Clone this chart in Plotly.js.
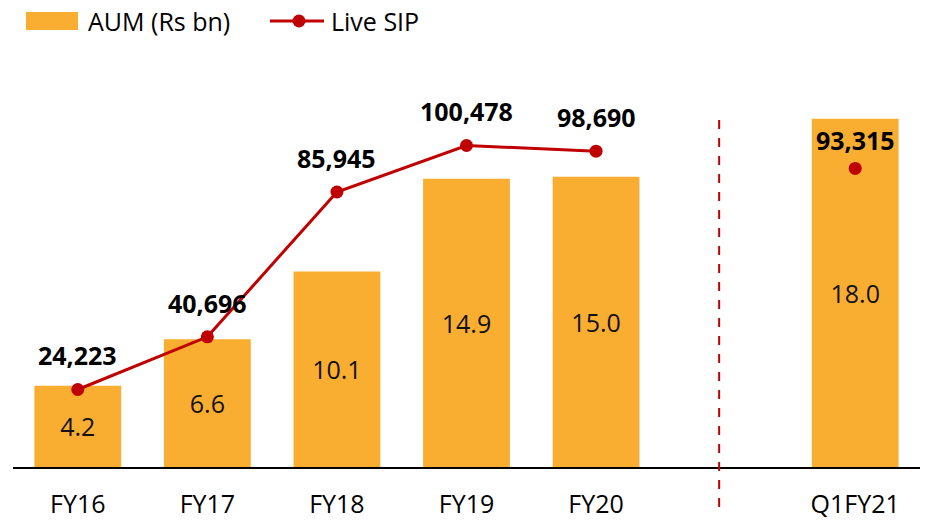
<!DOCTYPE html>
<html>
<head>
<meta charset="utf-8">
<script src="https://cdn.plot.ly/plotly-3.0.1.min.js"></script>
<style>html,body{margin:0;padding:0;background:#fff}#chart{width:932px;height:520px}</style>
</head>
<body>
<div id="chart"></div>
<script>
// Data
const barPositions = [0, 1, 2, 3, 4, 6];
const barLabels = ["FY16", "FY17", "FY18", "FY19", "FY20", "Q1FY21"];
const aumValues = [4.2, 6.6, 10.1, 14.9, 15.0, 18.0];
const sipPositions = [0, 1, 2, 3, 4];
const sipValues = [24223, 40696, 85945, 100478, 98690];
const sipQ1Position = [6];
const sipQ1Value = [93315];

const FONT = "'Open Sans', 'Noto Sans', sans-serif";
const FS = 25;
const ORANGE = "#F9AE32";
const RED = "#C00000";

const fmt = v => v.toLocaleString("en-US");

const bars = {
  type: "bar",
  x: barPositions,
  y: aumValues,
  width: 0.67,
  marker: {color: ORANGE},
  text: aumValues.map(v => v.toFixed(1)),
  textposition: "inside",
  insidetextanchor: "middle",
  textfont: {family: FONT, size: FS, color: "#111"},
  hoverinfo: "skip",
  showlegend: false
};

const line = {
  type: "scatter",
  mode: "lines+markers",
  x: sipPositions,
  y: sipValues,
  yaxis: "y2",
  line: {color: RED, width: 3},
  marker: {color: RED, size: 13},
  showlegend: false,
  hoverinfo: "skip"
};

const q1 = {
  type: "scatter",
  mode: "markers",
  x: sipQ1Position,
  y: sipQ1Value,
  yaxis: "y2",
  marker: {color: RED, size: 13},
  showlegend: false,
  hoverinfo: "skip"
};

const allSipX = sipPositions.concat(sipQ1Position);
const allSipY = sipValues.concat(sipQ1Value);
const annotations = allSipX.map((x, i) => ({
  x: x, y: allSipY[i], xref: "x", yref: "y2",
  text: "<b>" + fmt(allSipY[i]) + "</b>",
  showarrow: false, yshift: i === allSipX.length - 1 ? 28 : 34,
  font: {family: FONT, size: FS, color: "#000"}
}));

const px = v => (v - 13) / 907;
const py = v => (467 - v) / 387;

// Custom legend text
annotations.push({
  xref: "paper", yref: "paper", x: px(86), y: py(21),
  xanchor: "left", yanchor: "middle", showarrow: false,
  text: "AUM (Rs bn)", font: {family: FONT, size: FS, color: "#000"}
});
annotations.push({
  xref: "paper", yref: "paper", x: px(329), y: py(21),
  xanchor: "left", yanchor: "middle", showarrow: false,
  text: "Live SIP", font: {family: FONT, size: FS, color: "#000"}
});

const shapes = [
  {type: "line", xref: "x", yref: "paper", x0: 4.95, x1: 4.95, y0: py(507), y1: py(113),
   line: {color: RED, width: 2, dash: "dash"}},
  {type: "rect", xref: "paper", yref: "paper", x0: px(26), x1: px(78), y0: py(30), y1: py(12),
   fillcolor: ORANGE, line: {width: 0}},
  {type: "line", xref: "paper", yref: "paper", x0: px(270), x1: px(324), y0: py(21), y1: py(21),
   line: {color: RED, width: 3}},
  {type: "circle", xref: "paper", yref: "paper", x0: px(292.5), x1: px(305.5), y0: py(27.5), y1: py(14.5),
   fillcolor: RED, line: {width: 0}}
];

const layout = {
  width: 932, height: 520,
  margin: {l: 13, r: 12, t: 80, b: 53},
  paper_bgcolor: "#fff", plot_bgcolor: "#fff",
  showlegend: false,
  font: {family: FONT},
  xaxis: {
    range: [-0.5, 6.5],
    tickvals: barPositions,
    ticktext: barLabels,
    ticks: "outside", ticklen: 14, tickcolor: "rgba(0,0,0,0)",
    tickfont: {family: FONT, size: FS, color: "#000"},
    showline: true, linecolor: "#000", linewidth: 2,
    showgrid: false, zeroline: false, fixedrange: true
  },
  yaxis: {range: [0, 20], visible: false, showgrid: false, zeroline: false},
  yaxis2: {range: [0, 120940], overlaying: "y", visible: false, showgrid: false, zeroline: false},
  annotations: annotations,
  shapes: shapes
};

Plotly.newPlot("chart", [bars, line, q1], layout, {staticPlot: true});
</script>
</body>
</html>
